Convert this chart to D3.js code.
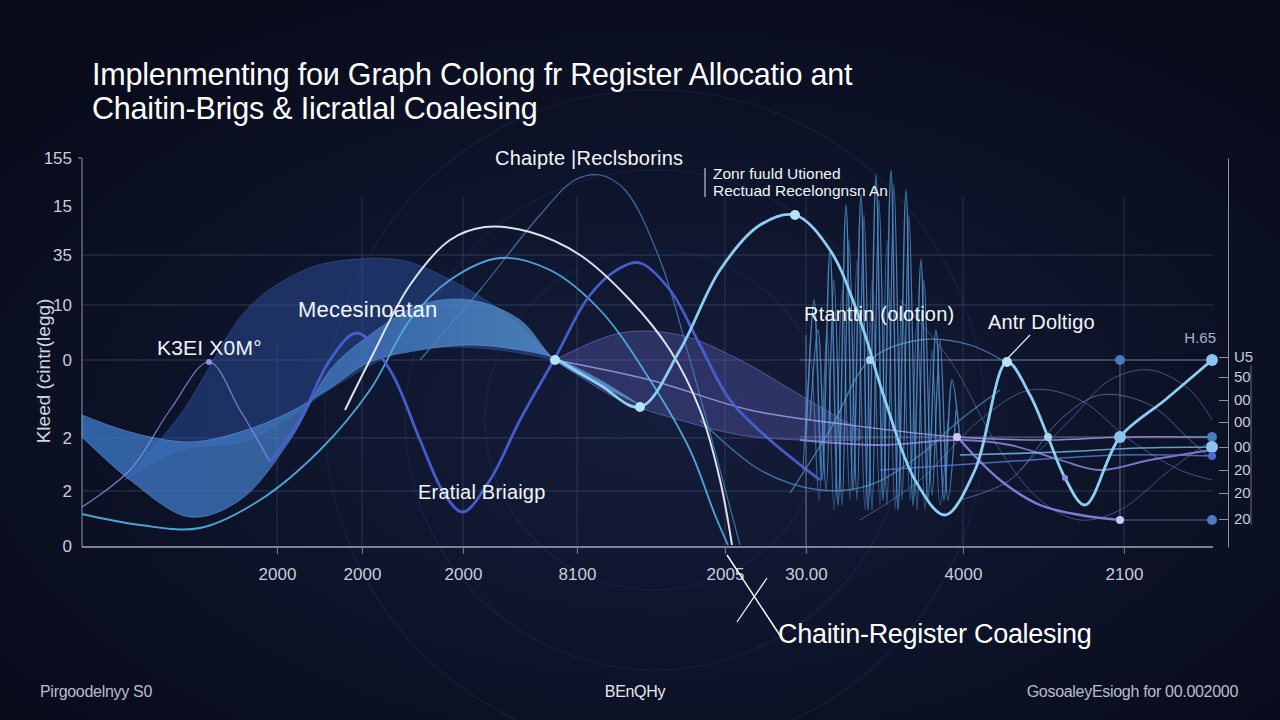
<!DOCTYPE html>
<html>
<head>
<meta charset="utf-8">
<script src="https://cdn.jsdelivr.net/npm/d3@7"></script>
<style>
  body { margin:0; background:#090d1e; }
  svg { display:block; }
  text { font-family:"Liberation Sans", Arial, sans-serif; }
</style>
</head>
<body>
<svg id="chart" width="1280" height="720"></svg>
<script>
// ---- data (x: 0..113, y: 0..39) ----
var titleLines = ["Implenmenting fo\u0438 Graph Colong fr Register Allocatio ant",
                  "Chaitin-Brigs & Iicratl\u0430l Coalesing"];
var yAxisTitle = "Kleed (cintr(legg)";
var xTickVals = [19.5, 28, 38.1, 49.5, 64.3, 72.4, 88.1, 104.2];
var xTickLabels = ["2000", "2000", "2000", "8100", "2005", "30.00", "4000", "2100"];
var yTickVals = [38.9, 34.1, 29.2, 24.2, 18.7, 10.9, 5.6, 0.1];
var yTickLabels = ["155", "15", "35", "10", "0", "2", "2", "0"];
var rightTickVals = [19.0, 17.0, 14.7, 12.5, 10.0, 7.7, 5.4, 2.8];
var rightTickLabels = ["U5", "50", "00", "00", "00", "20", "20", "20"];
var gridYVals = [29.2, 24.2, 18.7, 10.9, 5.6];

// twisted light-blue band
var bandX      = [0, 4.8, 10.8, 15.8, 20.8, 24.8, 28.8, 33.8, 38.8, 43.8, 47.3, 51.8, 55.8];
var bandTop    = [13.2, 11.5, 10.5, 11.5, 13.5, 15.9, 18.5, 19.7, 20.2, 19.7, 18.9, 16.7, 14.2];
var bandBottom = [11.0, 6.7, 3.0, 4.7, 10.7, 17.7, 21.2, 24.2, 24.7, 22.7, 18.7, 16.2, 14.2];
// darker translucent hump behind it
var humpX      = [4.3, 9.8, 16.7, 21.8, 25.0, 31.8, 36.5, 41.8, 47.3];
var humpTop    = [6.7, 13.2, 24.0, 27.5, 28.5, 28.7, 26.9, 23.7, 18.7];
var humpBottom = [6.7, 9.7, 10.7, 13.7, 15.9, 19.5, 20.0, 19.7, 18.7];
// purple band
var pBandX      = [47.3, 53.8, 59.8, 65.8, 71.8, 77.8];
var pBandTop    = [18.7, 21.4, 21.2, 18.7, 15.2, 11.7];
var pBandBottom = [18.7, 14.7, 12.7, 11.2, 10.7, 10.7];

// main bright line
var mainX = [47.3, 51.8, 55.8, 59.8, 63.8, 67.8, 71.3, 74.8, 77.8, 80.3, 83.3, 86.3, 89.3, 92.5, 94.8, 96.6, 98.3, 100.3, 103.8, 108.3, 113.0];
var mainY = [18.9, 16.2, 14.0, 19.7, 27.7, 32.2, 33.2, 29.7, 22.7, 14.7, 6.7, 3.2, 7.7, 18.5, 15.2, 11.0, 6.9, 4.2, 11.0, 14.7, 18.7];
// white arc
var whiteX = [26.3, 28.8, 32.8, 36.8, 40.3, 44.8, 49.8, 54.8, 58.8, 61.8, 63.8, 65.0];
var whiteY = [13.7, 18.7, 26.2, 30.7, 32.0, 31.5, 29.2, 24.7, 19.7, 13.7, 6.7, 0.2];
// cyan long line
var cyanX = [0, 5.8, 11.8, 17.8, 23.8, 28.8, 32.8, 36.8, 41.8, 46.8, 51.8, 56.8, 60.8, 63.3, 64.6];
var cyanY = [3.3, 2.2, 1.9, 4.7, 9.7, 15.7, 22.7, 26.7, 28.9, 27.7, 23.7, 16.7, 9.7, 3.2, 0.2];
// indigo line
var indigoX = [18.8, 21.8, 24.8, 27.5, 30.8, 33.8, 36.3, 38.1, 40.8, 43.8, 47.3, 50.8, 53.8, 55.8, 58.8, 61.8, 64.8, 68.8, 73.8];
var indigoY = [8.5, 12.7, 18.7, 21.4, 17.7, 10.7, 5.2, 3.5, 6.7, 12.7, 18.9, 25.2, 27.9, 28.4, 25.7, 20.2, 14.7, 10.7, 6.7];
// thin lavender at the left
var lavX = [0, 4.8, 8.8, 12.7, 15.8, 18.8];
var lavY = [4.0, 7.7, 13.7, 18.5, 13.7, 8.5];
// thin tall arc near the top
var tallX = [33.8, 39.8, 45.8, 49.3, 51.8, 54.3, 57.8, 60.8, 63.8, 65.8];
var tallY = [18.7, 25.7, 33.2, 36.7, 37.2, 35.7, 28.7, 18.7, 7.7, 0.2];
// dense oscillations
var osc1X = [72.4, 73.2, 74.0, 74.8, 75.6, 76.4, 77.1, 77.9, 78.6, 79.4, 80.1, 80.9, 81.6, 82.4, 83.1, 83.9, 84.6, 85.4, 86.2, 87.0, 87.8];
var osc1Y = [10.7, 24.7, 6.7, 29.7, 4.2, 34.2, 5.7, 35.2, 3.7, 37.2, 4.7, 37.7, 3.7, 35.7, 4.2, 28.7, 4.7, 21.7, 4.7, 16.7, 10.7];
var osc2X = [72.8, 73.6, 74.4, 75.2, 76.0, 76.7, 77.5, 78.2, 79.0, 79.7, 80.5, 81.2, 82.0, 82.7, 83.5, 84.2, 85.0, 85.8, 86.6, 87.4];
var osc2Y = [12.7, 21.7, 5.7, 26.7, 4.2, 30.7, 4.7, 33.2, 3.7, 34.7, 4.2, 36.2, 4.7, 33.2, 3.7, 26.7, 5.2, 20.7, 4.7, 13.7];
var osc3X = [72.1, 72.9, 73.7, 74.5, 75.2, 76.0, 76.8, 77.5, 78.3, 79.0, 79.8, 80.5, 81.3, 82.0, 82.8, 83.5, 84.3, 85.0, 85.8, 86.6];
var osc3Y = [7.7, 18.7, 4.7, 21.7, 3.7, 25.7, 4.7, 28.7, 3.7, 26.7, 4.2, 30.7, 3.7, 24.7, 4.7, 22.7, 3.7, 19.7, 4.2, 12.7];
// thin lines on the right
var thinAX = [77.8, 83.8, 89.8, 94.8, 99.8, 104.8, 109.8, 113.0];
var thinAY = [2.7, 6.7, 12.7, 15.7, 14.7, 10.7, 7.7, 6.7];
var thinBX = [87.8, 92.8, 97.8, 101.8, 106.8, 110.8, 113.0];
var thinBY = [4.7, 6.7, 12.7, 15.2, 14.2, 10.7, 8.7];
var thinDX = [81.8, 86.8, 91.8, 95.8, 99.8, 103.8, 108.8, 113.0];
var thinDY = [24.7, 18.7, 9.7, 4.7, 2.7, 3.7, 7.7, 10.7];
var thinEX = [93.8, 98.8, 102.8, 106.8, 110.8, 113.0];
var thinEY = [7.7, 12.7, 16.7, 17.7, 15.7, 12.7];
var riseX = [70.8, 74.8, 78.8, 83.8, 88.8, 92.8];
var riseY = [5.4, 11.7, 18.7, 20.7, 20.2, 18.2];
var purpX = [71.8, 79.8, 87.8, 92.8, 97.8, 101.8, 106.8, 113.0];
var purpY = [10.7, 10.2, 10.7, 10.2, 8.7, 7.7, 8.7, 9.7];
var lilacX = [47.3, 56.8, 66.8, 76.8, 87.5, 96.8, 103.8, 113.0];
var lilacY = [18.7, 16.7, 13.7, 12.2, 11.0, 10.7, 11.0, 11.0];
var purp2X = [87.8, 91.8, 95.8, 99.8, 103.8];
var purp2Y = [10.7, 6.7, 4.2, 3.2, 2.7];
var flat1X = [87.8, 97.8, 105.8, 113.0];
var flat1Y = [9.2, 9.5, 9.9, 10.0];
var flat2X = [79.8, 91.8, 103.8, 113.0];
var flat2Y = [7.7, 8.5, 9.2, 9.1];
var swoopX = [61.8, 67.8, 73.8, 78.8, 83.8, 87.8, 91.8];
var swoopY = [12.7, 7.7, 5.7, 6.2, 9.2, 12.7, 15.7];

// marker points [x, y, kind]
var dots = [
  [12.7, 18.5, "s"], [47.3, 18.7, "m"], [55.8, 14.0, "m"], [71.3, 33.2, "m"],
  [78.8, 18.7, "n"], [87.5, 11.0, "l"], [92.5, 18.5, "m"], [96.6, 11.0, "n"],
  [98.3, 6.9, "s"], [103.8, 18.7, "d"], [113.0, 18.7, "b"], [103.8, 11.0, "b"],
  [113.0, 11.0, "d"], [113.0, 10.0, "b"], [113.0, 9.1, "i"], [103.8, 2.7, "l"],
  [113.0, 2.7, "d"]
];

// annotations [text, x, y, size]
var notes = [
  ["K3EI X0M\u00b0", 7.5, 19.2, 21],
  ["Mecesinoatan", 21.6, 23.0, 22],
  ["Chaipte |Reclsborins", 41.3, 38.2, 20],
  ["Eratial  Briaigp", 33.6, 4.8, 20],
  ["Rtanttin (olotion)", 72.2, 22.6, 20],
  ["Antr Doltigo", 90.6, 21.8, 20]
];
var smallNote = ["Zonr fuuld Utioned", "Rectuad  Recelongnsn An"];
var bigNote = "Chaitin-Register Coalesing";
var footer = ["Pirgoodelnyy S0", "BEnQHy", "GosoaleyEsiogh for 00.002000"];
var cornerLabel = "H.65";

// ---- drawing ----
var svg = d3.select("#chart");
var W = 1280, H = 720;
var x = d3.scaleLinear().domain([0, 113.1]).range([82, 1213]);
var y = d3.scaleLinear().domain([0, 38.9]).range([547, 158]);

var defs = svg.append("defs");
var bg = defs.append("radialGradient").attr("id", "bg").attr("cx", "52%").attr("cy", "58%").attr("r", "70%");
bg.append("stop").attr("offset", "0%").attr("stop-color", "#141d3b");
bg.append("stop").attr("offset", "100%").attr("stop-color", "#070a18");
var bandGrad = defs.append("linearGradient").attr("id", "bandGrad").attr("x1", "0%").attr("x2", "100%");
bandGrad.append("stop").attr("offset", "0%").attr("stop-color", "#3a74c4").attr("stop-opacity", 0.8);
bandGrad.append("stop").attr("offset", "55%").attr("stop-color", "#4a86cc").attr("stop-opacity", 0.65);
bandGrad.append("stop").attr("offset", "100%").attr("stop-color", "#6aaee6").attr("stop-opacity", 0.7);

svg.append("rect").attr("width", W).attr("height", H).attr("fill", "url(#bg)");

// faint rings in the background
svg.append("g").selectAll("circle").data([170, 250, 330]).enter().append("circle")
  .attr("cx", 655).attr("cy", 420).attr("r", function(d){ return d; })
  .attr("fill", "none").attr("stroke", "#2c3f6e").attr("stroke-opacity", 0.3).attr("stroke-width", 1.2);

// grid
var grid = svg.append("g");
grid.selectAll("line.h").data(gridYVals).enter().append("line")
  .attr("x1", x(0)).attr("x2", x(113.1))
  .attr("y1", function(d){ return y(d); }).attr("y2", function(d){ return y(d); })
  .attr("stroke", "#48536f").attr("stroke-opacity", 0.6);
grid.selectAll("line.v").data(xTickVals).enter().append("line")
  .attr("x1", function(d){ return x(d); }).attr("x2", function(d){ return x(d); })
  .attr("y1", function(d, i){ return i == 0 ? y(20.5) : y(35); }).attr("y2", y(-0.6))
  .attr("stroke", "#48536f").attr("stroke-opacity", 0.5);

// bands
function zipArea(xs, a, b) { return xs.map(function(d, i){ return {x: d, a: a[i], b: b[i]}; }); }
var area = d3.area().curve(d3.curveCatmullRom)
  .x(function(d){ return x(d.x); }).y0(function(d){ return y(d.a); }).y1(function(d){ return y(d.b); });
svg.append("path").datum(zipArea(humpX, humpTop, humpBottom)).attr("d", area)
  .attr("fill", "#2c4f9c").attr("fill-opacity", 0.5).attr("stroke", "#4a78c0").attr("stroke-opacity", 0.35);
svg.append("path").datum(zipArea(pBandX, pBandTop, pBandBottom)).attr("d", area)
  .attr("fill", "#6e6ccc").attr("fill-opacity", 0.3).attr("stroke", "#8a86e0").attr("stroke-opacity", 0.5);
svg.append("path").datum(zipArea(bandX, bandTop, bandBottom)).attr("d", area)
  .attr("fill", "url(#bandGrad)").attr("stroke", "#5a9ad8").attr("stroke-opacity", 0.6);

// lines
function zip(xs, ys) { return xs.map(function(d, i){ return [d, ys[i]]; }); }
var line = d3.line().curve(d3.curveCatmullRom.alpha(0.5))
  .x(function(d){ return x(d[0]); }).y(function(d){ return y(d[1]); });
var series = [
  [osc3X, osc3Y, "#5a98d4", 1.2, 0.6],
  [osc2X, osc2Y, "#6aa4dc", 1.3, 0.7],
  [osc1X, osc1Y, "#4a8cc8", 1.5, 0.9],
  [thinAX, thinAY, "#6c8fd0", 1, 0.55],
  [thinBX, thinBY, "#8c9be0", 1, 0.55],
  [thinDX, thinDY, "#5a88c8", 1, 0.55],
  [thinEX, thinEY, "#6a98d8", 1, 0.5],
  [riseX, riseY, "#5aa6dc", 1.3, 0.7],
  [swoopX, swoopY, "#4a9ad0", 1.4, 0.7],
  [tallX, tallY, "#4a86c0", 1.2, 0.8],
  [lavX, lavY, "#8a8ee8", 1.2, 0.85],
  [lilacX, lilacY, "#a8a6f0", 1.4, 0.8],
  [purpX, purpY, "#9a8ef0", 1.8, 0.8],
  [flat1X, flat1Y, "#7ac0e8", 1.6, 0.8],
  [flat2X, flat2Y, "#5a7ae0", 1.6, 0.8],
  [purp2X, purp2Y, "#8a86e8", 2.4, 0.9],
  [cyanX, cyanY, "#4eaee0", 1.8, 0.95],
  [indigoX, indigoY, "#4a5fd6", 2.8, 0.95],
  [whiteX, whiteY, "#e4eefa", 2, 0.95],
  [mainX, mainY, "#8ccff2", 2.8, 1]
];
svg.append("g").selectAll("path").data(series).enter().append("path")
  .attr("d", function(s){ return line(zip(s[0], s[1])); })
  .attr("fill", "none")
  .attr("stroke", function(s){ return s[2]; })
  .attr("stroke-width", function(s){ return s[3]; })
  .attr("stroke-opacity", function(s){ return s[4]; });

// small box on the right
var box = svg.append("g").attr("stroke", "#7a86a8").attr("stroke-opacity", 0.75);
box.append("line").attr("x1", x(72.4)).attr("x2", x(113)).attr("y1", y(18.7)).attr("y2", y(18.7));
box.append("line").attr("x1", x(72.4)).attr("x2", x(113)).attr("y1", y(11)).attr("y2", y(11));
box.append("line").attr("x1", x(103.8)).attr("x2", x(113)).attr("y1", y(2.7)).attr("y2", y(2.7));
box.append("line").attr("x1", x(103.8)).attr("x2", x(103.8)).attr("y1", y(2.7)).attr("y2", y(18.7));
box.append("line").attr("x1", x(72.4)).attr("x2", x(72.4)).attr("y1", y(21.2)).attr("y2", y(0));
box.selectAll("line.t").data([18.7, 11]).enter().append("line")
  .attr("x1", x(71.8)).attr("x2", x(72.4)).attr("y1", function(d){ return y(d); }).attr("y2", function(d){ return y(d); });

// dots
var dotStyle = {
  s: [3, "#8a90e8"], m: [5, "#b6e2f8"], n: [4, "#a8d4f0"], l: [4, "#c8c8f4"],
  d: [5, "#4a7ac0"], b: [6, "#8ac4ec"], i: [4, "#4a6ad8"]
};
svg.append("g").selectAll("circle").data(dots).enter().append("circle")
  .attr("cx", function(d){ return x(d[0]); }).attr("cy", function(d){ return y(d[1]); })
  .attr("r", function(d){ return dotStyle[d[2]][0]; })
  .attr("fill", function(d){ return dotStyle[d[2]][1]; });

// axes
var yAxis = d3.axisLeft(y).tickValues(yTickVals).tickSize(0).tickPadding(10)
  .tickFormat(function(d, i){ return yTickLabels[i]; });
var gy = svg.append("g").attr("transform", "translate(" + x(0) + ",0)").call(yAxis);
gy.select(".domain").attr("stroke", "#8a93a8").attr("d", "M-4," + y(38.9) + "H0V" + y(0));
gy.selectAll("text").attr("fill", "#c8cdd8").attr("font-size", 17);

var xAxis = d3.axisBottom(x).tickValues(xTickVals).tickSize(7).tickPadding(14)
  .tickFormat(function(d, i){ return xTickLabels[i]; });
var gx = svg.append("g").attr("transform", "translate(0," + y(0) + ")").call(xAxis);
gx.select(".domain").attr("stroke", "#a0a8bc").attr("stroke-width", 1.6).attr("d", "M" + x(0) + ",0H" + x(113.1));
gx.selectAll(".tick line").attr("stroke", "#6a7592");
gx.selectAll("text").attr("fill", "#c8cdd8").attr("font-size", 17);

var rAxis = d3.axisRight(y).tickValues(rightTickVals).tickSizeInner(-9).tickSizeOuter(0).tickPadding(6)
  .tickFormat(function(d, i){ return rightTickLabels[i]; });
var gr = svg.append("g").attr("transform", "translate(" + x(114.6) + ",0)").call(rAxis);
gr.select(".domain").attr("stroke", "#8a93a8");
gr.selectAll(".tick line").attr("stroke", "#8a93a8");
gr.selectAll("text").attr("fill", "#c8cdd8").attr("font-size", 15);
svg.append("line").attr("x1", x(116.9)).attr("x2", x(116.9)).attr("y1", y(18.2)).attr("y2", y(2.2))
  .attr("stroke", "#8a93a8").attr("stroke-opacity", 0.7);
svg.append("text").attr("x", x(113.4)).attr("y", y(20.4)).attr("text-anchor", "end")
  .attr("fill", "#aab2c4").attr("font-size", 15).text(cornerLabel);

// titles
svg.append("g").selectAll("text").data(titleLines).enter().append("text")
  .attr("x", 92).attr("y", function(d, i){ return 85 + i * 34; })
  .attr("fill", "#ffffff").attr("font-size", 30.5).attr("letter-spacing", -0.2).text(function(d){ return d; });
svg.append("text").attr("transform", "translate(50," + y(17.6) + ") rotate(-90)")
  .attr("text-anchor", "middle").attr("fill", "#d0d5e0").attr("font-size", 19).text(yAxisTitle);

// annotations
svg.append("g").selectAll("text").data(notes).enter().append("text")
  .attr("x", function(d){ return x(d[1]); }).attr("y", function(d){ return y(d[2]); })
  .attr("fill", "#f2f5fb").attr("font-size", function(d){ return d[3]; })
  .attr("letter-spacing", 0.2).text(function(d){ return d[0]; });
svg.append("g").selectAll("text").data(smallNote).enter().append("text")
  .attr("x", x(63.1)).attr("y", function(d, i){ return y(36.8 - i * 1.7); })
  .attr("fill", "#f2f5fb").attr("font-size", 15.5).attr("letter-spacing", 0).text(function(d){ return d; });
svg.append("line").attr("x1", x(62.3)).attr("x2", x(62.3)).attr("y1", y(37.9)).attr("y2", y(35))
  .attr("stroke", "#dfe4ee");
svg.append("line").attr("x1", x(94.8)).attr("x2", x(92.6)).attr("y1", y(21.2)).attr("y2", y(18.9))
  .attr("stroke", "#e8ecf4").attr("stroke-width", 1.2);

// big caption with crossing leader lines
svg.append("text").attr("x", 778).attr("y", 643).attr("fill", "#ffffff").attr("font-size", 27)
  .attr("letter-spacing", -0.3).text(bigNote);
svg.append("line").attr("x1", x(64.5)).attr("y1", y(-0.8)).attr("x2", 783).attr("y2", 640)
  .attr("stroke", "#ffffff").attr("stroke-width", 1.4);
svg.append("line").attr("x1", 767).attr("y1", 578).attr("x2", 737).attr("y2", 622)
  .attr("stroke", "#ffffff").attr("stroke-width", 1.2);

// footer
svg.append("g").selectAll("text").data(footer).enter().append("text")
  .attr("x", function(d, i){ return [40, 635, 1238][i]; }).attr("y", 697)
  .attr("text-anchor", function(d, i){ return ["start", "middle", "end"][i]; })
  .attr("fill", function(d, i){ return i == 1 ? "#e6e9f0" : "#b8bfcc"; })
  .attr("font-size", 16).attr("letter-spacing", -0.3).text(function(d){ return d; });
</script>
</body>
</html>
